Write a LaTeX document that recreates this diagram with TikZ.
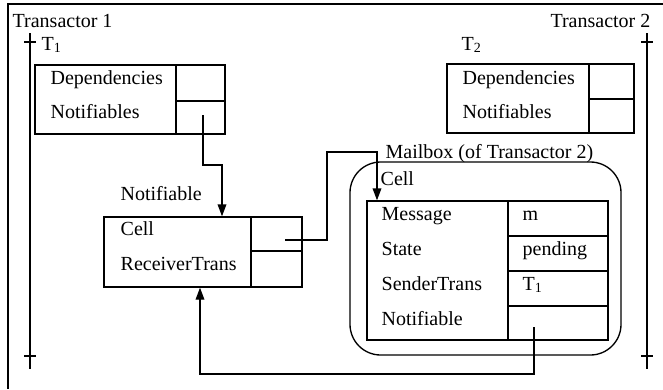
\documentclass[tikz,border=0pt]{standalone}
\usepackage{fontspec}
\setmainfont{Liberation Serif}
\usetikzlibrary{arrows.meta}

\begin{document}
\begin{tikzpicture}[x=0.75pt,y=-0.75pt,line width=1pt,>={Triangle[length=9pt,width=6.5pt]}]
    \tikzstyle{every node}=[font=\fontsize{15}{18}\selectfont]
    \tikzstyle{box}=[draw,inner sep=0pt]
    \tikzstyle{txt}=[anchor=base west,inner sep=0pt]
    \tikzstyle{link}=[->,shorten >=0pt]
    \useasboundingbox (0,0) rectangle (663,389);
    % frame and the two time lines
    \draw[line width=1.3pt] (663,4) -- (8,4) -- (8,389);
    \foreach \x in {30,647}{
      \draw (\x,33) -- (\x,369);
      \draw (\x-6,42) -- (\x+6,42);
      \draw (\x-6,356) -- (\x+6,356);
    }
    \node[txt] (tr1) at (12,27) {Transactor 1};
    \node[txt,anchor=base east] (tr2) at (651,27) {Transactor 2};
    \node[txt] (t1name) at (41,50) {T\textsubscript{1}};
    \node[txt] (t2name) at (461,50) {T\textsubscript{2}};

    % transactor records
    \node[box,minimum width=142.5pt,minimum height=51.75pt] (t1) at (130,99.5) {};
    \node[box,minimum width=36.75pt,minimum height=27pt] (t1dep) at (200.5,83) {};
    \node[box,minimum width=36.75pt,minimum height=24.75pt] (t1not) at (200.5,117.5) {};
    \node[txt] at (50,84) {Dependencies};
    \node[txt] at (50,118) {Notifiables};

    \node[box,minimum width=140.25pt,minimum height=51.75pt] (t2) at (540.5,98.5) {};
    \node[box,minimum width=33.75pt,minimum height=26.25pt] (t2dep) at (611.5,81.5) {};
    \node[box,minimum width=33.75pt,minimum height=25.5pt] (t2not) at (611.5,116) {};
    \node[txt] at (462,84) {Dependencies};
    \node[txt] at (462,118) {Notifiables};

    % the notifiable
    \node[txt] (notiflbl) at (120,200) {Notifiable};
    \node[box,minimum width=148.5pt,minimum height=52.5pt] (notif) at (203,252) {};
    \node[box,minimum width=38.25pt,minimum height=25.5pt] (cellslot) at (276.5,234) {};
    \node[box,minimum width=38.25pt,minimum height=27pt] (recvslot) at (276.5,269) {};
    \node[txt] at (120,235) {Cell};
    \node[txt] at (120,270) {ReceiverTrans};

    % mailbox with its cell
    \node[txt] (mboxlbl) at (385,158) {Mailbox (of Transactor 2)};
    \node[box,rounded corners=23pt,minimum width=203.25pt,minimum height=144.75pt] (mailbox) at (485.5,258.5) {};
    \node[txt] (celllbl) at (380,185) {Cell};
    \node[box,minimum width=180.75pt,minimum height=104.25pt] (msg) at (487.5,270.5) {};
    \node[box,minimum width=75pt,minimum height=26.25pt] (mval) at (558,218.5) {};
    \node[box,minimum width=75pt,minimum height=26.25pt] (sval) at (558,253.5) {};
    \node[box,minimum width=75pt,minimum height=26.25pt] (tval) at (558,288.5) {};
    \node[box,minimum width=75pt,minimum height=25.5pt] (nval) at (558,323) {};
    \node[txt] at (381,220) {Message};
    \node[txt] at (381,255) {State};
    \node[txt] at (381,290) {SenderTrans};
    \node[txt] at (381,325) {Notifiable};
    \node[txt] at (522,220) {m};
    \node[txt] at (522,255) {pending};
    \node[txt] at (522,290) {T\textsubscript{1}};

    % pointers
    \coordinate (k1) at (222,165);
    \coordinate (k2) at (327,152);
    \coordinate (k3) at (377,152);
    \coordinate (k4) at (200,374);
    \draw[link] ([shift={(2.5,-2.5)}]t1not.center) |- (k1) -- (k1 |- notif.north);
    \draw[link] ([shift={(8.5,6)}]cellslot.center) -| (k2) -- (k3) -- (k3 |- msg.north);
    \draw[link] ([shift={(-24,4)}]nval.center) |- (k4) -- (k4 |- notif.south);
\end{tikzpicture}
\end{document}
